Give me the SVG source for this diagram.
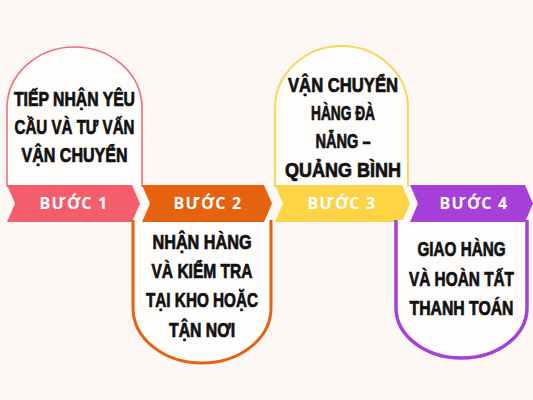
<svg xmlns="http://www.w3.org/2000/svg" width="533" height="400" viewBox="0 0 533 400">
<style>
.card{fill:#fffdfc}
.t{font-family:"Liberation Sans","Arial",sans-serif;font-weight:bold;font-size:20.5px;fill:#111;stroke:#111;stroke-width:0.75px;text-anchor:middle}
.r{font-family:"Open Sans","Liberation Sans",sans-serif;font-weight:bold;font-size:16px;fill:#fff;text-anchor:middle;letter-spacing:1.2px}
</style>
<rect width="533" height="400" fill="#fdf8f6"/>
<g id="connectors"></g>
<g id="step1">
<path class="card" d="M7,187 V108 A67.5,61 0 0 1 142,108 V187" stroke="#ef6f78" stroke-width="1.6"/>
<polygon points="7,185 132,185 140,203.5 132,222 7,222 15,203.5" fill="#f45d6a"/>
<text class="r" x="74" y="209">BƯỚC 1</text>
<g transform="translate(74.5,0) scale(0.74,1)">
<text class="t" x="0" y="106.5" textLength="163.5" lengthAdjust="spacingAndGlyphs">TIẾP NHẬN YÊU</text>
<text class="t" x="0" y="134.5" textLength="162.2" lengthAdjust="spacingAndGlyphs">CẦU VÀ TƯ VẤN</text>
<text class="t" x="0" y="162.5" textLength="143.2" lengthAdjust="spacingAndGlyphs">VẬN CHUYỂN</text>
</g>
</g>
<g id="step2">
<path class="card" d="M133,220 V308 A69,55 0 0 0 271,308 V220" stroke="#e5620e" stroke-width="3"/>
<polygon points="142,185 264,185 272,203.5 264,222 142,222 150,203.5" fill="#e5620e"/>
<text class="r" x="208" y="209">BƯỚC 2</text>
<g transform="translate(202,0) scale(0.74,1)">
<text class="t" x="0" y="249.5" textLength="133.8" lengthAdjust="spacingAndGlyphs">NHẬN HÀNG</text>
<text class="t" x="0" y="278.5" textLength="136.5" lengthAdjust="spacingAndGlyphs">VÀ KIỂM TRA</text>
<text class="t" x="0" y="307.5" textLength="151.4" lengthAdjust="spacingAndGlyphs">TẠI KHO HOẶC</text>
<text class="t" x="0" y="337.5" textLength="89.2" lengthAdjust="spacingAndGlyphs">TẬN NƠI</text>
</g>
</g>
<g id="step3">
<path class="card" d="M275,187 V108 A66.5,62 0 0 1 408,108 V187" stroke="#f9d65a" stroke-width="2"/>
<polygon points="275,185 402,185 410,203.5 402,222 275,222 283,203.5" fill="#fdd446"/>
<text class="r" x="342" y="209">BƯỚC 3</text>
<g transform="translate(343,0) scale(0.74,1)">
<text class="t" x="0" y="92.5" textLength="148.6" lengthAdjust="spacingAndGlyphs">VẬN CHUYỂN</text>
<text class="t" x="0" y="120.5" textLength="86.5" lengthAdjust="spacingAndGlyphs">HÀNG ĐÀ</text>
<text class="t" x="0" y="148.5" textLength="74.3" lengthAdjust="spacingAndGlyphs">NẴNG –</text>
<text class="t" x="0" y="177" textLength="156.8" lengthAdjust="spacingAndGlyphs">QUẢNG BÌNH</text>
</g>
</g>
<g id="step4">
<path class="card" d="M396,220 V308 A65.5,50 0 0 0 527,308 V220" stroke="#a73fd9" stroke-width="3.5"/>
<polygon points="410,185 525,185 533,203.5 525,222 410,222 418,203.5" fill="#a73fd9"/>
<text class="r" x="474" y="209">BƯỚC 4</text>
<g transform="translate(461.5,0) scale(0.74,1)">
<text class="t" x="0" y="256.5" textLength="118.9" lengthAdjust="spacingAndGlyphs">GIAO HÀNG</text>
<text class="t" x="0" y="286" textLength="141.9" lengthAdjust="spacingAndGlyphs">VÀ HOÀN TẤT</text>
<text class="t" x="0" y="315.5" textLength="140.5" lengthAdjust="spacingAndGlyphs">THANH TOÁN</text>
</g>
</g>
</svg>
